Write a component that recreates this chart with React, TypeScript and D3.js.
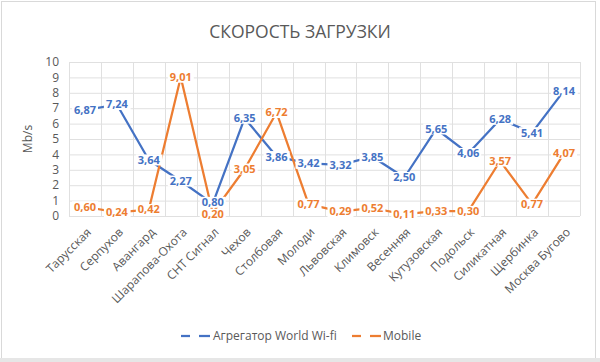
import React, { useEffect, useRef } from "react";
import * as d3 from "d3";

const categories = [
  "Тарусская", "Серпухов", "Авангард", "Шарапова-Охота", "СНТ Сигнал", "Чехов",
  "Столбовая", "Молоди", "Львовская", "Климовск", "Весенняя", "Кутузовская",
  "Подольск", "Силикатная", "Щербинка", "Москва Бугово",
];
const wifiValues = [6.87, 7.24, 3.64, 2.27, 0.8, 6.35, 3.86, 3.42, 3.32, 3.85, 2.5, 5.65, 4.06, 6.28, 5.41, 8.14];
const mobileValues = [0.6, 0.24, 0.42, 9.01, 0.2, 3.05, 6.72, 0.77, 0.29, 0.52, 0.11, 0.33, 0.3, 3.57, 0.77, 4.07];
const yTicks = [0, 1, 2, 3, 4, 5, 6, 7, 8, 9, 10];
const seriesNames = ["Агрегатор World Wi-fi", "Mobile"];
const colors = ["#4472C4", "#ED7D31"];

const W = 600, H = 362;
const M = { left: 69, right: 20, top: 62, bottom: 146 };
const FONT = "'Open Sans', 'Noto Sans', sans-serif";

export default function App() {
  const ref = useRef<SVGSVGElement>(null);
  useEffect(() => {
    document.body.style.margin = "0";
    const svg = d3.select(ref.current);
    svg.selectAll("*").remove();

    const x = d3.scaleBand().domain(categories).range([M.left, W - M.right]).padding(0);
    const y = d3.scaleLinear().domain([0, 10]).range([H - M.bottom, M.top]);
    const cx = (c: string) => (x(c) as number) + x.bandwidth() / 2;

    svg.append("rect").attr("x", 0).attr("y", 0).attr("width", W).attr("height", H).attr("fill", "#fff");
    svg.append("rect").attr("x", 1.5).attr("y", 1.5).attr("width", 594).attr("height", 357)
      .attr("fill", "none").attr("stroke", "#d9d9d9");
    svg.append("rect").attr("x", 0).attr("y", 358).attr("width", W).attr("height", 4).attr("fill", "#e6e6e6");

    // title
    svg.append("text").attr("x", 300).attr("y", 38).attr("text-anchor", "middle")
      .attr("font-family", FONT).attr("font-size", 17.5).attr("fill", "#595959")
      .text("СКОРОСТЬ ЗАГРУЗКИ");

    // grid
    const g = svg.append("g");
    g.selectAll("line.h").data(yTicks).join("line")
      .attr("x1", M.left).attr("x2", W - M.right)
      .attr("y1", (d) => y(d) + 0.5).attr("y2", (d) => y(d) + 0.5)
      .attr("stroke", "#e0e0e0").attr("stroke-width", 1);
    const bounds = categories.map((c) => x(c) as number).concat([W - M.right]);
    g.selectAll("line.v").data(bounds).join("line")
      .attr("x1", (d) => Math.round(d) + 0.5).attr("x2", (d) => Math.round(d) + 0.5)
      .attr("y1", y(10)).attr("y2", y(0))
      .attr("stroke", "#e0e0e0").attr("stroke-width", 1);

    // y ticks
    svg.append("g").selectAll("text").data(yTicks).join("text")
      .attr("x", 59).attr("y", (d) => y(d)).attr("dy", "0.35em").attr("text-anchor", "end")
      .attr("font-family", FONT).attr("font-size", 12).attr("fill", "#595959")
      .text((d) => String(d));
    svg.append("text").attr("transform", `translate(32,${(y(0) + y(10)) / 2}) rotate(-90)`)
      .attr("text-anchor", "middle").attr("font-family", FONT).attr("font-size", 12).attr("fill", "#595959")
      .text("Mb/s");

    // x labels
    svg.append("g").selectAll("text").data(categories).join("text")
      .attr("transform", (d) => `translate(${cx(d) + 4},${y(0) + 14}) rotate(-45)`)
      .attr("text-anchor", "end").attr("dy", "0.35em")
      .attr("font-family", FONT).attr("font-size", 12).attr("fill", "#595959")
      .text((d) => d);

    const series = [wifiValues, mobileValues];
    const line = d3.line<number>().x((_, i) => cx(categories[i])).y((d) => y(d));
    series.forEach((vals, si) => {
      svg.append("path").attr("d", line(vals)).attr("fill", "none")
        .attr("stroke", colors[si]).attr("stroke-width", 2.25).attr("stroke-linejoin", "round");
    });

    // label positions with simple collision separation between series
    const labelY = series.map((vals) => vals.map((v) => y(v)));
    const minGap = 12;
    categories.forEach((_, i) => {
      const a = labelY[0][i], b = labelY[1][i];
      if (Math.abs(a - b) < minGap) {
        const mid = (a + b) / 2;
        const s = a <= b ? 1 : -1;
        labelY[0][i] = mid - (s * minGap) / 2;
        labelY[1][i] = mid + (s * minGap) / 2;
      }
    });

    // labels
    series.forEach((vals, si) => {
      const lg = svg.append("g");
      vals.forEach((v, i) => {
        const px = cx(categories[i]);
        const py = labelY[si][i];
        const grp = lg.append("g");
        const rect = grp.append("rect").attr("fill", "#fff");
        const t = grp.append("text").attr("x", px).attr("y", py).attr("dy", "0.36em")
          .attr("text-anchor", "middle").attr("font-family", FONT).attr("font-size", 11)
          .attr("font-weight", "bold").attr("fill", colors[si])
          .text(d3.format(".2f")(v).replace(".", ","));
        const bb = (t.node() as SVGTextElement).getBBox();
        rect.attr("x", bb.x - 2).attr("y", py - 5.5).attr("width", bb.width + 4).attr("height", 11);
      });
    });

    // legend
    const leg = [
      { x: 181, tx: 212 },
      { x: 352, tx: 382 },
    ];
    leg.forEach((l, i) => {
      svg.append("line").attr("x1", l.x).attr("x2", l.x + 9).attr("y1", 336).attr("y2", 336)
        .attr("stroke", colors[i]).attr("stroke-width", 2.25);
      svg.append("line").attr("x1", l.x + 18).attr("x2", l.x + 29).attr("y1", 336).attr("y2", 336)
        .attr("stroke", colors[i]).attr("stroke-width", 2.25);
      svg.append("text").attr("x", l.tx + 1).attr("y", 336).attr("dy", "0.35em")
        .attr("font-family", FONT).attr("font-size", 12).attr("fill", "#595959").text(seriesNames[i]);
    });
  }, []);
  return (
    <svg ref={ref} width={W} height={H} style={{ position: "absolute", left: 0, top: 0, display: "block" }} />
  );
}
